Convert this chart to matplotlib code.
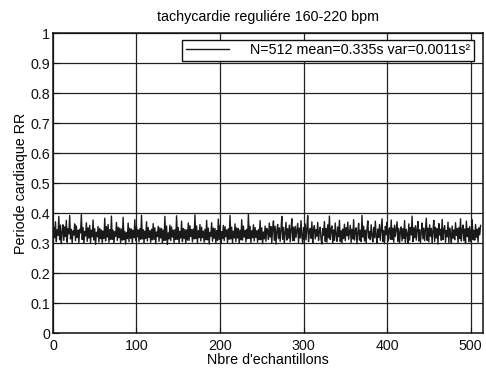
import numpy as np
import matplotlib.pyplot as plt

plt.rcParams['font.family'] = ['Liberation Sans', 'DejaVu Sans']

# RR intervals in milliseconds, 512 beats
rr_ms_text = """
352 318 371 305 344 326 389 311 360 298 337 361 309 354 322 376 303 348 331 392 314 346 300 341 327 364 308 357 319 343 302 346
334 395 312 352 299 339 324 368 306 351 317 359 301 343 321 377 310 348 296 336 321 355 304 349 315 344 298 340 316 383 307 355
320 362 303 345 312 390 313 343 300 338 323 369 309 353 318 350 302 347 310 386 311 339 297 335 315 367 305 350 316 347 299 342
318 378 308 356 321 344 304 348 313 393 314 345 301 340 316 371 307 352 319 341 303 346 311 365 312 351 298 337 322 356 306 351
317 348 300 343 309 389 310 357 296 334 314 360 308 354 320 343 302 345 312 391 313 352 299 339 317 373 305 349 315 346 301 344
310 367 309 358 322 345 304 347 314 394 315 357 300 341 318 362 307 353 318 340 303 346 311 376 311 350 297 336 323 368 306 350
316 349 301 342 309 380 312 359 298 338 315 359 308 355 321 344 302 348 313 392 314 353 300 340 317 364 305 351 317 348 299 343
311 378 310 357 320 342 304 346 315 396 316 356 302 341 318 361 307 352 319 341 303 345 312 375 311 351 298 337 314 357 306 349
341 312 367 320 355 301 348 374 309 356 297 339 362 315 351 306 344 389 313 352 300 335 369 310 348 317 360 304 346 381 308 353
308 356 319 343 366 302 350 317 375 324 298 352 311 364 311 347 392 305 338 349 316 371 300 345 358 314 345 323 369 309 340 353
312 297 348 326 372 306 349 303 361 318 390 312 345 357 300 344 309 367 328 306 354 321 376 305 342 299 347 315 363 308 351 325
370 313 337 359 302 346 314 378 310 340 351 298 335 366 310 343 305 392 320 356 307 343 301 348 374 317 339 311 361 326 304 352
318 373 324 300 347 319 362 309 345 381 305 342 298 356 328 369 306 343 351 313 377 312 350 303 360 322 347 371 306 349 301 339
354 307 348 316 375 303 346 331 299 364 310 352 327 390 305 351 318 358 310 344 372 307 345 302 339 367 314 350 308 346 383 309
350 304 361 323 349 300 342 376 305 353 317 348 297 365 327 346 309 379 312 345 358 303 342 321 370 302 350 330 301 357 316 344
311 368 326 348 302 352 315 381 307 344 360 308 347 299 373 322 349 304 355 305 340 378 311 343 310 362 320 346 303 351 328 359
"""
rr = np.array(rr_ms_text.split(), dtype=float) / 1000.0
samples = np.arange(1, len(rr) + 1)

legend_label = 'N=512 mean=0.335s var=0.0011s\u00b2'
title = 'tachycardie reguliére 160-220 bpm'
x_ticks = [0, 100, 200, 300, 400, 500]
y_ticks = np.round(np.arange(0, 1.01, 0.1), 1)
y_tick_labels = ['0', '0.1', '0.2', '0.3', '0.4', '0.5', '0.6', '0.7', '0.8', '0.9', '1']

fs = 10.3

fig = plt.figure(figsize=(4.86, 3.71), dpi=100)
ax = fig.add_axes([0.109, 0.102, 0.885, 0.809])

ax.plot(samples, rr, color='#1a1a1a', linewidth=1.0, label=legend_label)

ax.set_xlim(0, 515)
ax.set_ylim(0, 1)
ax.set_xticks(x_ticks)
ax.set_yticks(y_ticks)
ax.set_yticklabels(y_tick_labels)
ax.tick_params(direction='in', length=4, labelsize=fs, colors='#111111', pad=2)
ax.tick_params(axis='x', pad=4)

ax.grid(True, color='#222222', linewidth=0.9, linestyle='-')
for spine in ax.spines.values():
    spine.set_linewidth(1.1)
    spine.set_color('#111111')

ax.set_title(title, fontsize=fs, pad=9)
ax.set_xlabel("Nbre d'echantillons", fontsize=fs, labelpad=0)
ax.set_ylabel('Periode cardiaque RR', fontsize=fs, labelpad=2)

leg = ax.legend(loc='upper right', bbox_to_anchor=(0.979, 0.977), borderaxespad=0,
                fancybox=False, framealpha=1, edgecolor='#111111', fontsize=fs,
                handlelength=3, handletextpad=1.5, borderpad=0.25)
leg.get_frame().set_linewidth(1.0)

fig.savefig('out.png', dpi=100)
